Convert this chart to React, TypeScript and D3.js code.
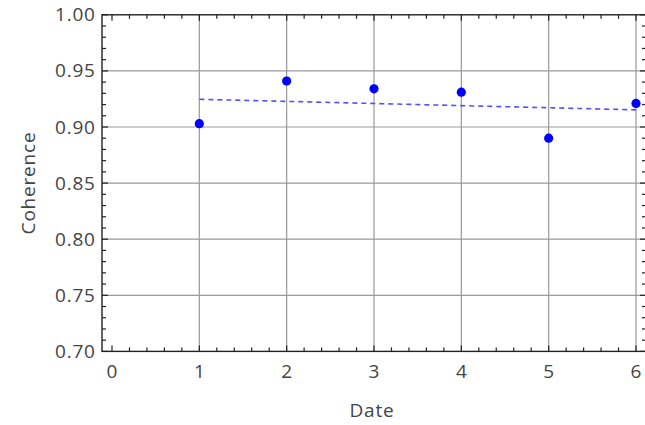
import React from "react";
import * as d3 from "d3";

const dates = [1, 2, 3, 4, 5, 6];
const coherence = [0.903, 0.941, 0.934, 0.931, 0.89, 0.921];
const xTicks = [0, 1, 2, 3, 4, 5, 6];
const yTicks = [0.7, 0.75, 0.8, 0.85, 0.9, 0.95, 1.0];
const xGrid = [1, 2, 3, 4, 5, 6];
const yGrid = [0.75, 0.8, 0.85, 0.9, 0.95];

const W = 645;
const H = 425;
const FONT = "'Open Sans', 'Noto Sans', sans-serif";
const FS = 19;
const LS = 0.8;

export default function App() {
  const x = d3.scaleLinear().domain([0, 6]).range([112, 636]);
  const y = d3.scaleLinear().domain([0.7, 1.0]).range([351.4, 14.8]);
  const left = 102;
  const right = 646.5;
  const top = y(1.0);
  const bottom = y(0.7);

  // least squares fit
  const mx = d3.mean(dates) as number;
  const my = d3.mean(coherence) as number;
  let sxy = 0, sxx = 0;
  dates.forEach((d, i) => {
    sxy += (d - mx) * (coherence[i] - my);
    sxx += (d - mx) * (d - mx);
  });
  const slope = sxy / sxx;
  const intercept = my - slope * mx;
  const fitPts: [number, number][] = [1, 6].map((d) => [x(d), y(intercept + slope * d)]);
  const line = d3.line<[number, number]>();

  const xMinor = d3.range(0, 6.0001, 0.2).map((v) => +v.toFixed(2));
  const yMinor = d3.range(0.7, 1.0001, 0.01).map((v) => +v.toFixed(3));
  const isMajorX = (v: number) => Math.abs(v - Math.round(v)) < 1e-6;
  const isMajorY = (v: number) => Math.abs(v * 20 - Math.round(v * 20)) < 1e-6;

  const textProps = { fontFamily: FONT, fontSize: FS, fill: "#444", letterSpacing: LS };

  return (
    <svg
      width={W}
      height={H}
      style={{ position: "absolute", left: 0, top: 0, background: "#fff" }}
    >
      {/* grid */}
      {xGrid.map((v) => (
        <line key={"gx" + v} x1={x(v)} x2={x(v)} y1={top} y2={bottom} stroke="#999" strokeWidth={1.2} />
      ))}
      {yGrid.map((v) => (
        <line key={"gy" + v} x1={left} x2={right} y1={y(v)} y2={y(v)} stroke="#999" strokeWidth={1.2} />
      ))}
      {/* ticks bottom/top */}
      {xMinor.map((v) => {
        const len = isMajorX(v) ? 6 : 4;
        return (
          <g key={"tx" + v}>
            <line x1={x(v)} x2={x(v)} y1={bottom} y2={bottom - len} stroke="#222" strokeWidth={1.2} />
            <line x1={x(v)} x2={x(v)} y1={top} y2={top + len} stroke="#222" strokeWidth={1.2} />
          </g>
        );
      })}
      {yMinor.map((v) => {
        const len = isMajorY(v) ? 6 : 4;
        return (
          <g key={"ty" + v}>
            <line x1={left} x2={left + len} y1={y(v)} y2={y(v)} stroke="#222" strokeWidth={1.2} />
            <line x1={645} x2={645 - (len - 1)} y1={y(v)} y2={y(v)} stroke="#222" strokeWidth={1.2} />
          </g>
        );
      })}
      {/* frame */}
      <rect x={left} y={top} width={right - left} height={bottom - top} fill="none" stroke="#222" strokeWidth={1.4} />
      {/* tick labels */}
      {xTicks.map((v) => (
        <text key={"lx" + v} x={x(v) + LS / 2} y={378} textAnchor="middle" {...textProps}>{v}</text>
      ))}
      {yTicks.map((v) => (
        <text key={"ly" + v} x={95 + LS} y={y(v) + 6.5} textAnchor="end" {...textProps}>{v.toFixed(2)}</text>
      ))}
      {/* axis labels */}
      <text x={372} y={417} textAnchor="middle" {...textProps}>Date</text>
      <text transform={`translate(34.5,183) rotate(-90)`} textAnchor="middle" {...textProps}>Coherence</text>
      {/* fit line */}
      <path d={line(fitPts) || ""} stroke="#5050ff" strokeWidth={1.6} strokeDasharray="5,4" fill="none" />
      {/* points */}
      {dates.map((d, i) => (
        <circle key={"p" + d} cx={x(d)} cy={y(coherence[i])} r={4.6} fill="#0000ff" />
      ))}
    </svg>
  );
}
